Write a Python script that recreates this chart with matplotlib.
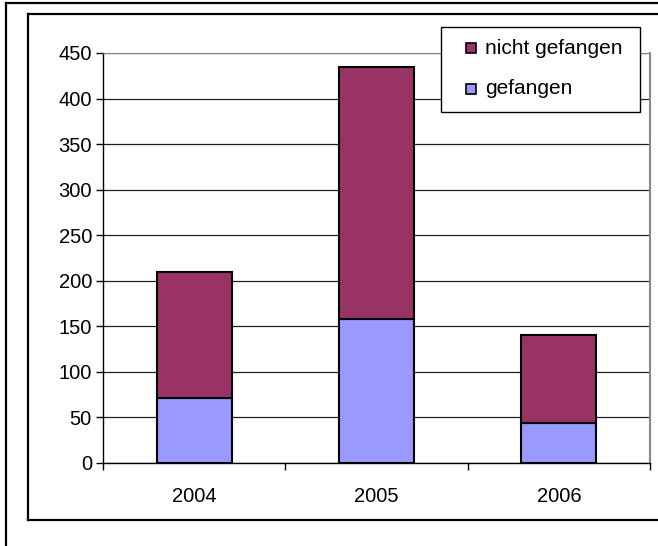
import matplotlib
matplotlib.use("Agg")
import matplotlib.pyplot as plt
from matplotlib.lines import Line2D
from matplotlib.patches import Rectangle

years = ["2004", "2005", "2006"]
gefangen = [71, 158, 44]
nicht_gefangen = [139, 277, 97]
y_ticks = [0, 50, 100, 150, 200, 250, 300, 350, 400, 450]
series_names = ["nicht gefangen", "gefangen"]

col_gef = "#9999FF"
col_nicht = "#993366"
FS = 14.5

W, H = 658, 546
plt.rcParams["font.family"] = ["Liberation Sans", "DejaVu Sans"]
fig = plt.figure(figsize=(W / 100, H / 100), dpi=100)

def fx(px):
    return px / W

def fy(py):
    return 1 - py / H

def fline(xs, ys, **kw):
    fig.add_artist(Line2D([fx(v) for v in xs], [fy(v) for v in ys],
                          transform=fig.transFigure, **kw))

# frames around the chart
fline([6, 6], [3, 546], color="black", lw=1.6)
fline([6, 658], [3, 3], color="black", lw=1.6)
fline([28, 28], [14, 520], color="black", lw=1.6)
fline([28, 658], [14, 14], color="black", lw=1.6)
fline([28, 658], [520, 520], color="black", lw=1.6)

left, right, top, bottom = 103, 650, 53, 463
ax = fig.add_axes([fx(left), fy(bottom), fx(right - left), fy(top) - fy(bottom)])

x = list(range(len(years)))
ax.bar(x, gefangen, width=0.41, color=col_gef, edgecolor="black", linewidth=1.5, zorder=3)
ax.bar(x, nicht_gefangen, width=0.41, bottom=gefangen, color=col_nicht, edgecolor="black", linewidth=1.5, zorder=3)

ax.set_xlim(-0.5, 2.5)
ax.set_ylim(0, 450)
ax.set_yticks(y_ticks)
ax.set_yticklabels([str(v) for v in y_ticks], fontsize=FS)
ax.yaxis.grid(True, color="#202020", lw=0.9, zorder=0)
ax.set_xticks(x)
ax.set_xticklabels(years, fontsize=FS)
ax.tick_params(axis="x", length=0, pad=17)
ax.set_xticks([-0.5, 0.5, 1.5, 2.5], minor=True)
ax.tick_params(axis="x", which="minor", length=5, width=1, direction="out")
ax.tick_params(axis="y", length=5, width=1, direction="out", pad=3)

for s in ("left", "bottom"):
    ax.spines[s].set_color("black")
    ax.spines[s].set_linewidth(1)
ax.spines["top"].set_color("#888888")
ax.spines["right"].set_color("#888888")
ax.spines["right"].set_linewidth(1.5)

# legend box
lx0, ly0, lx1, ly1 = 441, 27, 640, 112
fig.add_artist(Rectangle((fx(lx0), fy(ly1)), fx(lx1 - lx0), fy(ly0) - fy(ly1),
                         transform=fig.transFigure, facecolor="white",
                         edgecolor="black", lw=1, zorder=5))
for name, col, yc in zip(series_names, [col_nicht, col_gef], [48, 89]):
    fig.add_artist(Rectangle((fx(466), fy(yc + 5)), fx(10), fy(yc - 5) - fy(yc + 5),
                             transform=fig.transFigure, facecolor=col,
                             edgecolor="black", lw=1.2, zorder=6))
    fig.text(fx(485), fy(yc), name, fontsize=FS + 0.5, va="center", ha="left", zorder=6)

fig.savefig("out.png", dpi=100)
